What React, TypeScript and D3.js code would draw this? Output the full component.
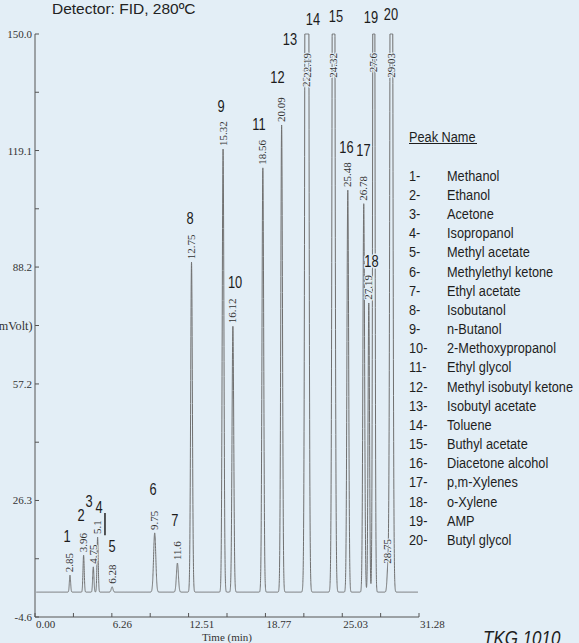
import React from 'react';
import * as d3 from 'd3';

const W = 579;
const H = 643;

// Axis ticks
const yTicks = [150.0, 119.1, 88.2, 57.2, 26.3, -4.6];
const xTicks = [0.0, 6.26, 12.51, 18.77, 25.03, 31.28];

// Peaks: retention time (min), apex (mV), half-width sigma (min)
const rtTimes = [2.85, 3.96, 4.75, 5.1, 6.28, 9.75, 11.6, 12.75, 15.32, 16.12, 18.56, 20.09, 22.1, 22.19, 24.32, 25.48, 26.78, 27.19, 27.6, 28.75, 29.03];
const rtText = ['2.85', '3.96', '4.75', '5.1', '6.28', '9.75', '11.6', '12.75', '15.32', '16.12', '18.56', '20.09', '22.1', '22.19', '24.32', '25.48', '26.78', '27.19', '27.6', '28.75', '29.03'];
const peakHeights = [6.5, 11.8, 8.7, 16.6, 3.4, 17.7, 9.7, 89.5, 119.5, 72.5, 114.5, 125.9, 320, 330, 340, 108.6, 105.0, 78.7, 330, 8.7, 340];
const peakSigma = [0.05, 0.05, 0.05, 0.05, 0.07, 0.09, 0.08, 0.07, 0.07, 0.07, 0.07, 0.07, 0.09, 0.09, 0.09, 0.07, 0.07, 0.06, 0.07, 0.07, 0.09];
const baselineLevel = 2.0;
const traceStart = 0.1;
const traceEnd = 31.2;

// Peak numbers and where they are written (time, mV)
const peakNumbers = ['1', '2', '3', '4', '5', '6', '7', '8', '9', '10', '11', '12', '13', '14', '15', '16', '17', '18', '19', '20'];
const numberAt: [number, number][] = [
  [2.61, 15.3], [3.75, 20.9], [4.4, 24.6], [5.21, 23.0], [6.27, 12.6], [9.61, 27.8], [11.4, 19.5],
  [12.63, 99.6], [15.15, 129.3], [16.3, 82.6], [18.25, 124.5], [19.75, 137.0], [20.77, 147.1],
  [22.64, 152.4], [24.52, 153.2], [25.37, 118.4], [26.76, 117.6], [27.41, 88.2], [27.37, 152.9], [29.0, 153.7],
];

// Legend
const legendNums = ['1-', '2-', '3-', '4-', '5-', '6-', '7-', '8-', '9-', '10-', '11-', '12-', '13-', '14-', '15-', '16-', '17-', '18-', '19-', '20-'];
const legendNames = ['Methanol', 'Ethanol', 'Acetone', 'Isopropanol', 'Methyl acetate', 'Methylethyl ketone', 'Ethyl acetate', 'Isobutanol', 'n-Butanol', '2-Methoxypropanol', 'Ethyl glycol', 'Methyl isobutyl ketone', 'Isobutyl acetate', 'Toluene', 'Buthyl acetate', 'Diacetone alcohol', 'p,m-Xylenes', 'o-Xylene', 'AMP', 'Butyl glycol'];

const BG = '#e3eef6';
const SERIF = '"Liberation Serif", "Times New Roman", serif';
const SANS = '"Liberation Sans", Arial, sans-serif';

export default function App() {
  const x = d3.scaleLinear().domain([0, 31.28]).range([35, 419]);
  const y = d3.scaleLinear().domain([-4.6, 150]).range([617, 34]);
  const yMax = 150;

  const times = d3.range(traceStart, traceEnd, 0.004);
  const signal = times.map((t) => {
    let v = baselineLevel;
    rtTimes.forEach((rt, i) => {
      const d = (t - rt) / peakSigma[i];
      v += (peakHeights[i] - baselineLevel) * Math.exp(-0.5 * d * d);
    });
    return Math.min(v, yMax);
  });
  const line = d3
    .line<number>()
    .x((_, i) => x(times[i]))
    .y((v) => y(v));
  const tracePath = line(signal) || '';

  // minor ticks
  const yMinor = yTicks.slice(0, -1).map((v, i) => (v + yTicks[i + 1]) / 2);
  const xMinor = xTicks.slice(0, -1).map((v, i) => (v + xTicks[i + 1]) / 2);

  const legendX = 409;
  const legendNameX = 447;
  const legendScale = 0.85;

  return (
    <svg
      width={W}
      height={H}
      style={{ position: 'absolute', left: 0, top: 0, background: BG }}
      xmlns="http://www.w3.org/2000/svg"
    >
      <rect x={0} y={0} width={W} height={H} fill={BG} />
      <text x={52} y={13.5} fontFamily={SANS} fontSize={15.5} fill="#222">
        Detector: FID, 280ºC
      </text>

      {/* trace */}
      <path d={tracePath} fill="none" stroke="#707070" strokeWidth={1} />

      {/* axes */}
      <line x1={35} x2={35} y1={y(150)} y2={y(-4.6)} stroke="#555" strokeWidth={1} />
      <line x1={35} x2={x(31.28)} y1={y(-4.6)} y2={y(-4.6)} stroke="#555" strokeWidth={1} />
      {yTicks.map((v) => (
        <g key={'yt' + v}>
          <line x1={35} x2={39} y1={y(v)} y2={y(v)} stroke="#555" />
          <text x={32} y={y(v) + 4} textAnchor="end" fontFamily={SERIF} fontSize={11} fill="#333">
            {v.toFixed(1)}
          </text>
        </g>
      ))}
      {yMinor.map((v) => (
        <line key={'ym' + v} x1={35} x2={39} y1={y(v)} y2={y(v)} stroke="#555" />
      ))}
      <text x={32.5} y={y(72.7) + 4} textAnchor="end" fontFamily={SERIF} fontSize={12.2} fill="#333">
        (mVolt)
      </text>
      {xTicks.map((v) => (
        <g key={'xt' + v}>
          <line x1={x(v)} x2={x(v)} y1={y(-4.6)} y2={y(-4.6) - 4} stroke="#555" />
          <text x={x(v) + 1} y={628} fontFamily={SERIF} fontSize={11} fill="#333">
            {v.toFixed(2)}
          </text>
        </g>
      ))}
      {xMinor.map((v) => (
        <line key={'xm' + v} x1={x(v)} x2={x(v)} y1={y(-4.6)} y2={y(-4.6) - 4} stroke="#555" />
      ))}
      <text x={227} y={641} textAnchor="middle" fontFamily={SERIF} fontSize={11} fill="#333">
        Time (min)
      </text>

      {/* retention time labels */}
      {rtTimes.map((rt, i) => {
        const clipped = peakHeights[i] > yMax;
        const px = x(rt) + 3.5;
        let py: number;
        let anchor: 'start' | 'end';
        if (i === 12) {
          py = 87;
          anchor = 'start';
        } else if (clipped) {
          py = y(yMax) + 19;
          anchor = 'end';
        } else {
          py = y(peakHeights[i]) - 3;
          anchor = 'start';
        }
        return (
          <text
            key={'rt' + i}
            transform={`translate(${px},${py}) rotate(-90)`}
            textAnchor={anchor}
            fontFamily={SERIF}
            fontSize={11}
            fill="#333"
            stroke={BG}
            strokeWidth={2}
            paintOrder="stroke"
          >
            {rtText[i]}
          </text>
        );
      })}

      {/* peak numbers */}
      {peakNumbers.map((n, i) => (
        <text
          key={'pn' + n}
          transform={`translate(${x(numberAt[i][0])},${y(numberAt[i][1])}) scale(0.78,1)`}
          textAnchor="middle"
          fontFamily={SANS}
          fontSize={16.5}
          fill="#1c1c1c"
          stroke={BG}
          strokeWidth={3}
          paintOrder="stroke"
        >
          {n}
        </text>
      ))}
      <line x1={x(5.7)} x2={x(5.7)} y1={y(23.0)} y2={y(17.1)} stroke="#222" strokeWidth={1.5} />

      {/* legend */}
      <text
        transform={`translate(${legendX},141.5) scale(${legendScale},1)`}
        fontFamily={SANS}
        fontSize={15}
        fill="#1e1e1e"
      >
        Peak Name
      </text>
      <line x1={legendX} x2={477} y1={143.5} y2={143.5} stroke="#1e1e1e" strokeWidth={1} />
      {legendNums.map((n, i) => (
        <g key={'lg' + i} transform={`translate(${legendX},${180.7 + 19.17 * i}) scale(${legendScale},1)`}>
          <text x={0} y={0} fontFamily={SANS} fontSize={15} fill="#1e1e1e">
            {n}
          </text>
          <text x={(legendNameX - legendX) / legendScale} y={0} fontFamily={SANS} fontSize={15} fill="#1e1e1e">
            {legendNames[i]}
          </text>
        </g>
      ))}

      <text
        transform="translate(483,645) scale(0.85,1)"
        fontFamily={SANS}
        fontStyle="italic"
        fontSize={20}
        fill="#1e1e1e"
      >
        TKG 1010
      </text>
    </svg>
  );
}
